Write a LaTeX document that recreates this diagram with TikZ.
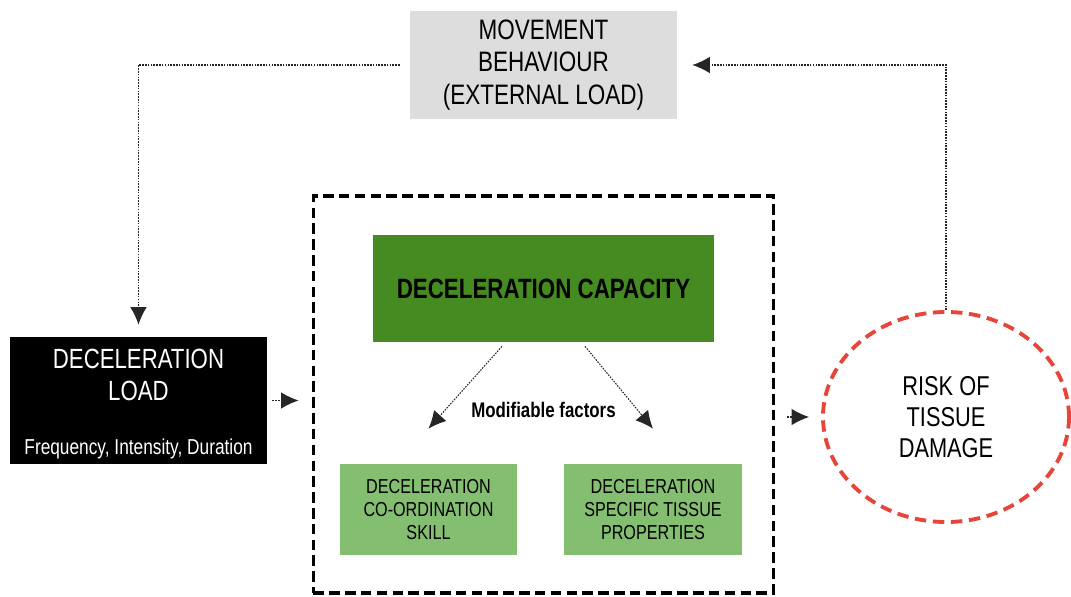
\documentclass[tikz,border=0pt]{standalone}
\usepackage{fontspec}
\setmainfont{Liberation Sans}[FakeStretch=0.8]
\usepackage{tikz}
\usetikzlibrary{arrows.meta,positioning,shapes}
\definecolor{movegray}{HTML}{DDDDDD}
\definecolor{capgreen}{HTML}{458B22}
\definecolor{factorgreen}{HTML}{84BE70}
\definecolor{riskred}{HTML}{E8453A}

\begin{document}
\begin{tikzpicture}[node distance=3cm,on grid,auto,
  >={Latex[length=0.35cm,width=0.33cm]},
  movebox/.style={rectangle,fill=movegray,minimum width=5.34cm,minimum height=2.16cm,align=center,font=\fontsize{16}{18.5}\selectfont},
  loadbox/.style={rectangle,fill=black,text=white,inner ysep=0pt,minimum width=5.14cm,minimum height=2.54cm,align=center,font=\fontsize{15.8}{18.4}\selectfont},
  capbox/.style={rectangle,fill=capgreen,minimum width=6.82cm,minimum height=2.14cm,font=\bfseries\fontsize{15.9}{18}\selectfont},
  factor/.style={rectangle,fill=factorgreen,minimum width=3.55cm,minimum height=1.82cm,align=center,font=\fontsize{11.5}{13}\selectfont},
  frame/.style={rectangle,draw,line width=2.2pt,dash pattern=on 6pt off 3pt,minimum width=9.2cm,minimum height=7.94cm},
  risk/.style={ellipse,draw=riskred,line width=2.2pt,dash pattern=on 6.5pt off 3.8pt,minimum width=4.92cm,minimum height=4.2cm,align=center,font=\fontsize{15.5}{17.8}\selectfont},
  flow/.style={dash pattern=on 0.9pt off 0.7pt,line width=0.6pt,draw=black!85}]
  \useasboundingbox (-10.87,-6.15) rectangle (10.55,5.77);
  \node[capbox] (cap) {DECELERATION CAPACITY};
  \node[movebox] (move) [above=4.47cm of cap] {MOVEMENT\\BEHAVIOUR\\(EXTERNAL LOAD)};
  \node[loadbox] (load) [below left=2.24cm and 8.1cm of cap] {\rule{0pt}{0.52cm}DECELERATION\\LOAD\\[0.42cm]{\fontsize{12.3}{14}\selectfont Frequency, Intensity, Duration}};
  \node[frame] (frame) [below=2.12cm of cap] {};
  \node[factor] (skill) [below left=4.42cm and 2.3cm of cap] {DECELERATION\\CO-ORDINATION\\SKILL};
  \node[factor] (tissue) [below right=4.42cm and 2.19cm of cap] {DECELERATION\\SPECIFIC TISSUE\\PROPERTIES};
  \node (mod) [below=2.43cm of cap] {\bfseries\fontsize{12}{14}\selectfont Modifiable factors};
  \node[risk] (risk) [below right=2.57cm and 8.05cm of cap] {RISK OF\\TISSUE\\DAMAGE};
  \draw[flow,->] ([xshift=-0.83cm,yshift=-0.08cm]cap.south) -- ([yshift=0.7cm]skill.north);
  \draw[flow,->] ([xshift=0.83cm,yshift=-0.08cm]cap.south) -- ([yshift=0.7cm]tissue.north);
  \draw[flow,->,shorten <=0.1cm,shorten >=0.26cm] (load.east) -- (load.east -| frame.west);
  \draw[flow,->,shorten <=0.24cm,shorten >=0.24cm] (risk.west -| frame.east) -- (risk.west);
  \draw[flow,->,shorten >=0.3cm] (risk.north) |- (move.east);
  \draw[flow,->,shorten <=0.2cm,shorten >=0.24cm] (move.west) -| (load.north);
\end{tikzpicture}
\end{document}
